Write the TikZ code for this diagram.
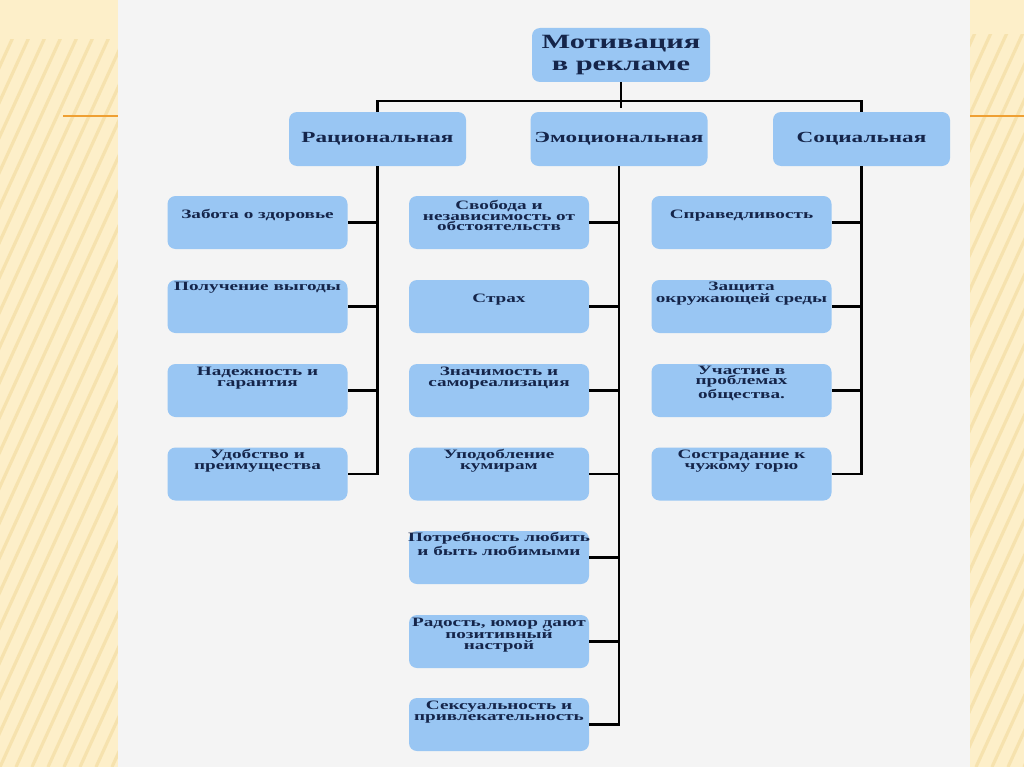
\documentclass[tikz,border=0pt]{standalone}
\usepackage{fontspec}
\setmainfont{Liberation Serif}[FakeStretch=1.5]
\usetikzlibrary{calc}
\definecolor{beige}{HTML}{FDEFC9}
\definecolor{stripec}{HTML}{F6E2AE}
\definecolor{panel}{HTML}{F4F4F4}
\definecolor{orangeline}{HTML}{EFA033}
\definecolor{boxblue}{HTML}{99C6F3}
\definecolor{navy}{HTML}{15254A}
\begin{document}
\begin{tikzpicture}[x=0.75pt,y=-0.75pt,
  box/.style={fill=boxblue, rounded corners=6pt, inner sep=0pt,
    minimum width=180*0.75pt, minimum height=53*0.75pt},
  topbox/.style={box, minimum width=178*0.75pt, minimum height=54*0.75pt,
    font=\bfseries\fontsize{15.2}{15.8}\selectfont, text=navy, align=center},
  midbox/.style={box, minimum width=177*0.75pt, minimum height=54*0.75pt,
    font=\bfseries\fontsize{11.6}{12}\selectfont, text=navy},
  txt/.style={font=\bfseries\fontsize{9.6}{8.1}\selectfont, text=navy,
    align=center, inner sep=0pt},
  conn/.style={line width=1.6pt, black},
  stripe/.style={stripec, line width=2.4pt}]
\useasboundingbox (0,0) rectangle (1024,767);
% background
\fill[beige] (0,0) rectangle (1024,767);
\begin{scope}
  \clip (0,40) rectangle (118,767);
  \foreach \i in {-30,-29,...,12} \draw[stripe] (\i*16,767) -- ++(350,-767);
\end{scope}
\begin{scope}
  \clip (970,35) rectangle (1024,767);
  \foreach \i in {30,31,...,70} \draw[stripe] (\i*16,767) -- ++(350,-767);
\end{scope}
\fill[panel] (118,0) rectangle (970,767);
\draw[orangeline, line width=1.5pt] (63,116) -- (118,116);
\draw[orangeline, line width=1.5pt] (970,116) -- (1024,116);

% level 1
\node[topbox] (top) at (621,55) {Мотивация\\в рекламе};
% level 2
\node[midbox] (rat) at (377.5,139) {Рациональная};
\node[midbox] (emo) at (619,139) {Эмоциональная};
\node[midbox] (soc) at (861.5,139) {Социальная};
\coordinate (bus) at (620,101);

% left column
\node[box] (l1) at (257.5,222.5) {};
\node[box] (l2) at (257.5,306.5) {};
\node[box] (l3) at (257.5,390.5) {};
\node[box] (l4) at (257.5,474) {};
\node[txt] (l1t) at (257.5,215) {Забота о здоровье};
\node[txt] (l2t) at (257.5,288) {Получение выгоды};
\node[txt] (l3t) at (257.5,378) {Надежность и\\гарантия};
\node[txt] (l4t) at (257.5,461) {Удобство и\\преимущества};

% middle column
\node[box] (m1) at (499,222.5) {};
\node[box] (m2) at (499,306.5) {};
\node[box] (m3) at (499,390.5) {};
\node[box] (m4) at (499,474) {};
\node[box] (m5) at (499,557.5) {};
\node[box] (m6) at (499,641.5) {};
\node[box] (m7) at (499,724.5) {};
\node[txt] (m1t) at (499,215.5) {Свобода и\\независимость от\\обстоятельств};
\node[txt] (m2t) at (499,300) {Страх};
\node[txt] (m3t) at (499,378) {Значимость и\\самореализация};
\node[txt] (m4t) at (499,461) {Уподобление\\кумирам};
\node[txt] (m5t) at (499,544) {Потребность любить\\и быть любимыми};
\node[txt] (m6t) at (499,635) {Радость, юмор дают\\позитивный\\настрой};
\node[txt] (m7t) at (499,712.5) {Сексуальность и\\привлекательность};

% right column
\node[box] (s1) at (741.5,222.5) {};
\node[box] (s2) at (741.5,306.5) {};
\node[box] (s3) at (741.5,390.5) {};
\node[box] (s4) at (741.5,474) {};
\node[txt] (s1t) at (741.5,216) {Справедливость};
\node[txt] (s2t) at (741.5,293.5) {Защита\\окружающей среды};
\node[txt] (s3t) at (741.5,383) {Участие в\\проблемах\\общества.};
\node[txt] (s4t) at (741.5,461) {Сострадание к\\чужому горю};

% connectors top
\draw[conn] (top.south) -- ($(top.south |- bus)+(0,7)$);
\draw[conn] (rat.north) -- (rat.north |- bus) -- (soc.north |- bus) -- (soc.north);

% connectors left
\draw[conn] (rat.south) -- (rat.south |- l4.east) -- (l4.east);
\foreach \n in {l1,l2,l3} \draw[conn] (\n.east) -- (\n.east -| rat.south);
% connectors middle
\draw[conn] (emo.south) -- (emo.south |- m7.east) -- (m7.east);
\foreach \n in {m1,m2,m3,m4,m5,m6} \draw[conn] (\n.east) -- (\n.east -| emo.south);
% connectors right
\draw[conn] (soc.south) -- (soc.south |- s4.east) -- (s4.east);
\foreach \n in {s1,s2,s3} \draw[conn] (\n.east) -- (\n.east -| soc.south);
\end{tikzpicture}
\end{document}
